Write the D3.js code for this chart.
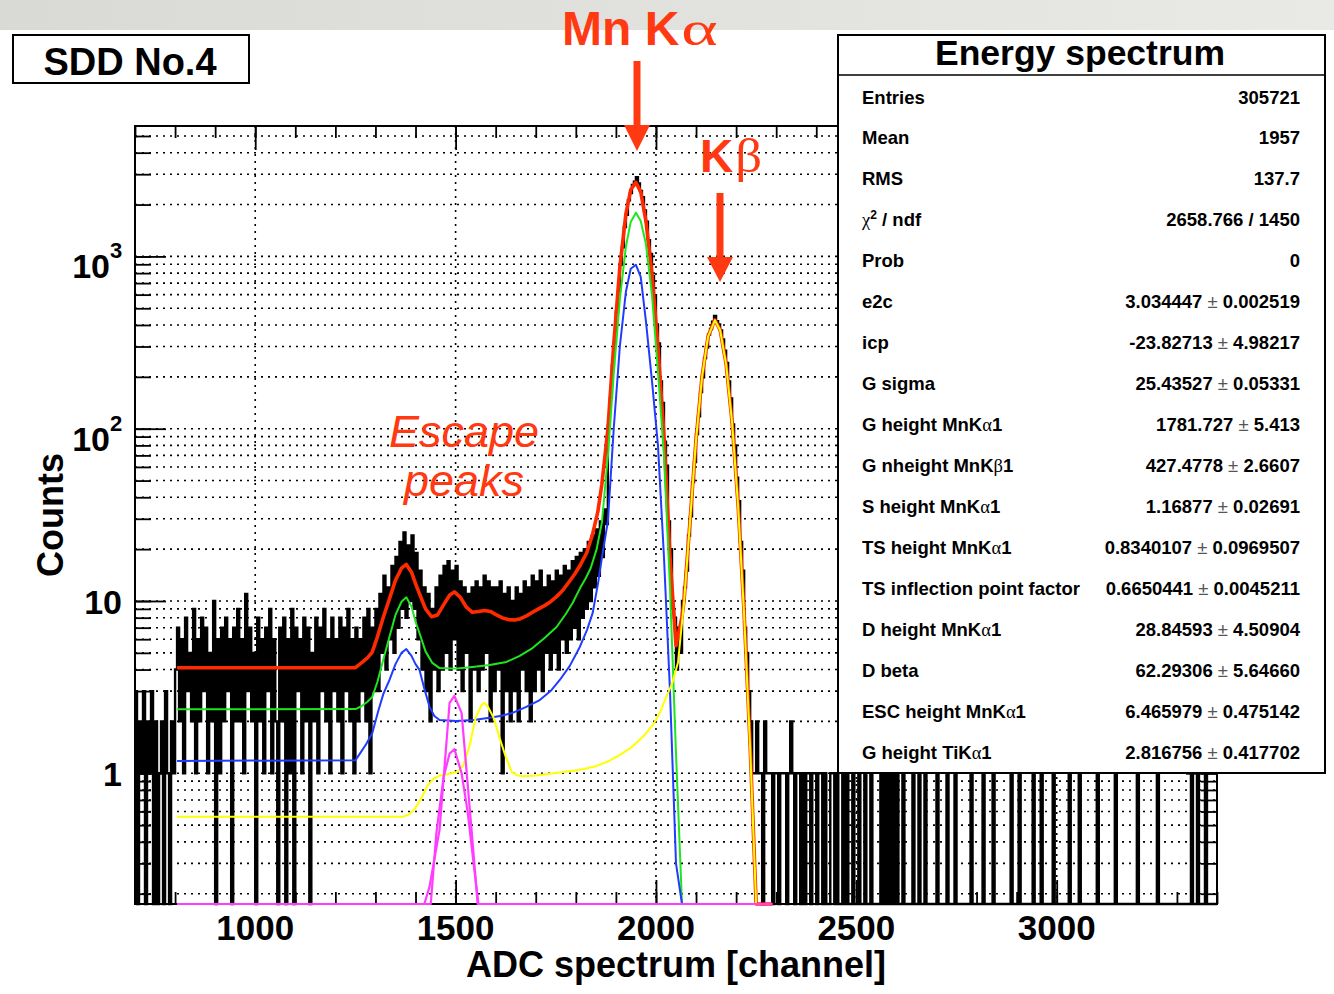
<!DOCTYPE html>
<html>
<head>
<meta charset="utf-8">
<script src="https://cdn.jsdelivr.net/npm/d3@7"></script>
<style>
  html, body { margin: 0; padding: 0; background: #ffffff; }
  svg { display: block; }
  text { font-family: "Liberation Sans", Arial, Helvetica, sans-serif; font-weight: bold; }
</style>
</head>
<body>
<svg id="chart" width="1334" height="994"></svg>
<script>
// ---------------- spectrum data (counts per bin, 5-channel bins from channel 700) ----------------
const binStart = 700;
const binWidth = 5;

// 700 - 800
const countsBelowFit = [3,0,2,1,3,0,2,1,3,0, 2,0,1,2,0,3,1,0,2,1, 4];
// 805 - 1245 : flat continuum
const countsContinuum = [
  7,2,6,1,8,3,5,2,9,1,
  6,2,8,3,7,1,5,2,10,0,
  6,1,7,2,8,3,6,0,7,2,
  9,2,6,1,11,3,7,2,5,0,
  8,2,6,1,7,3,9,1,6,2,
  0,7,2,8,0,6,1,9,0,7,
  3,6,1,8,2,7,0,5,2,8,
  1,7,3,9,2,6,1,8,3,6,
  2,8,1,7,3,9,2,6,1
];
// 1250 - 1875 : escape peaks and low-energy tail
const countsEscape = [
  7,2,6,3,8,2,9,1,7,3,
  9,3,11,5,14,4,12,6,16,5,
  18,7,22,9,25,8,21,10,24,9,
  19,6,15,4,12,3,11,2,9,4,
  12,3,14,4,16,5,17,4,15,6,
  16,4,13,3,12,5,11,2,12,4,
  13,3,12,4,14,5,13,2,12,3,
  12,4,13,1,11,3,12,2,10,3,
  12,2,11,4,13,3,12,2,14,3,
  13,4,15,3,12,5,14,4,13,5,
  15,4,14,6,16,5,15,6,17,7,
  18,6,19,8,20,9,22,10,24,12,
  26,14,29,18,34,28
];
// 1880 - 2245 : Mn K-alpha and K-beta lines
const countsPeaks = [
  104,151,233,309,478,627,893,1131,1482,1744,
  2117,2331,2603,2712,2880,2651,2398,2203,1851,1590,
  1243,1032,771,596,403,312,188,141,84,61,
  29,20,9,8,4,7,5,10,12,15,
  24,31,49,64,93,118,163,199,257,296,
  352,379,418,451,420,403,372,330,284,241,
  188,150,106,80,52,38,22,15,7,5,
  3,2,1,1
];
// 2250 - 3395 : above the K-beta line
const countsTail = [
  2,1,1,0,2,1,1,1,0,1,
  1,0,1,1,1,0,1,2,1,0,
  1,1,0,1,0,1,1,0,1,1,
  0,1,1,0,1,0,0,1,1,0,
  1,0,0,1,0,1,0,0,1,0,
  0,1,0,0,1,0,0,1,0,0,
  0,0,1,0,1,0,1,0,1,0,
  1,0,0,1,0,0,0,0,1,0,
  0,1,0,0,1,0,0,0,0,0,
  1,0,0,0,0,1,0,0,0,1,
  0,0,0,0,0,0,0,1,0,0,
  0,0,0,1,0,0,0,0,1,0,
  0,0,0,0,0,0,0,1,0,0,
  0,1,0,0,0,0,0,0,1,0,
  0,0,1,0,0,0,0,0,1,0,
  0,0,0,0,0,0,1,0,0,0,
  0,1,0,0,0,0,0,0,0,0,
  1,0,0,0,0,0,0,0,0,1,
  0,0,0,0,0,0,0,0,0,0,
  1,0,0,0,0,0,0,0,0,0,
  1,0,0,0,0,0,0,0,0,0,
  0,0,0,0,0,0,0,1,0,0,
  1,0,0,0,1,0,0,0,0,0
];
const counts = [].concat(countsBelowFit, countsContinuum, countsEscape, countsPeaks, countsTail);

// ---------------- fit functions [channel, value] ----------------
const fitTotal = [
  [805,4.1],[1250,4.1],[1265,4.37],[1280,4.68],[1292,5.05],[1305,6.2],[1320,8.1],[1335,10.3],
  [1350,13.2],[1365,15.5],[1377,16.3],[1390,14.7],[1400,12.6],[1410,11.0],[1425,9.0],[1440,8.1],
  [1455,8.3],[1470,9.5],[1485,10.8],[1497,11.3],[1512,10.5],[1527,9.2],[1542,8.6],[1557,8.7],
  [1572,8.8],[1587,8.7],[1602,8.3],[1617,7.97],[1632,7.8],[1647,7.75],[1662,7.9],[1677,8.2],
  [1692,8.6],[1707,9.0],[1722,9.4],[1737,9.9],[1752,10.6],[1767,11.5],[1782,12.8],[1797,14.3],
  [1812,16.3],[1827,19],[1842,24.5],[1855,33],[1865,47.6],[1880,99],[1895,318],[1910,871],
  [1925,1767],[1937,2435],[1950,2690],[1962,2368],[1975,1602],[1990,792],[2005,297],[2020,91],
  [2035,18],[2050,5.5],[2065,8.1],[2070,10],[2085,29.2],[2100,86.5],[2115,201],[2130,343],
  [2147,428],[2160,375],[2175,238],[2190,109],[2205,36],[2220,8.5],[2235,1.45],[2250,0.17],
  [2262,0],[2290,0]
];
const fitKa1 = [
  [805,2.35],[1250,2.36],[1265,2.45],[1280,2.6],[1292,2.77],[1305,3.4],[1320,4.6],[1335,6.2],
  [1350,8.3],[1365,9.9],[1377,10.5],[1390,9.3],[1400,7.6],[1410,6.5],[1425,5.1],[1442,4.37],
  [1460,4.08],[1500,4.05],[1542,4.14],[1585,4.25],[1627,4.43],[1660,4.8],[1692,5.33],[1722,6.1],
  [1752,7.06],[1775,8.4],[1792,9.73],[1810,11.8],[1825,13.6],[1837,15.5],[1852,20],[1865,28.5],
  [1880,69],[1895,214],[1910,568],[1925,1142],[1937,1586],[1950,1795],[1962,1606],[1975,1180],
  [1990,600],[2005,215],[2020,70],[2035,12],[2050,1.3],[2065,0.1],[2080,0],[2290,0]
];
const fitKa2 = [
  [805,1.18],[1250,1.19],[1262,1.31],[1277,1.48],[1292,1.71],[1307,2.3],[1320,2.9],[1335,3.48],
  [1350,4.3],[1365,5.0],[1377,5.26],[1390,4.8],[1400,4.3],[1410,3.98],[1422,3.1],[1435,2.43],
  [1447,2.15],[1460,2.04],[1502,2.01],[1545,2.04],[1585,2.1],[1615,2.16],[1642,2.24],[1675,2.42],
  [1710,2.66],[1737,3.0],[1760,3.48],[1785,4.2],[1810,5.41],[1828,6.8],[1842,8.5],[1855,12.5],
  [1867,19],[1880,29],[1895,103],[1910,302],[1925,624],[1937,848],[1950,894],[1962,760],
  [1975,420],[1990,190],[2005,80],[2020,18],[2035,3],[2050,0.3],[2065,0],[2290,0]
];
const fitKb = [
  [805,0.56],[1370,0.56],[1385,0.58],[1400,0.63],[1415,0.72],[1430,0.85],[1445,0.93],[1460,0.97],
  [1475,0.98],[1490,1.0],[1505,1.02],[1520,1.12],[1535,1.45],[1550,2.1],[1565,2.5],[1572,2.56],
  [1580,2.45],[1595,2.1],[1610,1.6],[1625,1.25],[1640,1.02],[1655,0.97],[1670,0.96],[1700,0.97],
  [1730,0.99],[1760,1.01],[1790,1.03],[1820,1.06],[1850,1.1],[1880,1.17],[1910,1.28],[1940,1.42],
  [1970,1.65],[1995,1.95],[2010,2.25],[2025,2.75],[2040,3.3],[2055,4.4],[2070,9.8],[2085,29],
  [2100,86],[2115,200],[2130,342],[2147,426],[2160,374],[2175,237],[2190,108],[2205,35.5],
  [2220,8.3],[2235,1.4],[2250,0.17],[2262,0],[2290,0]
];
const fitTiA = [
  [805,0],[1415,0],[1422,0.17],[1435,0.22],[1460,0.47],[1485,2.56],[1497,2.81],[1515,2.24],
  [1542,0.41],[1555,0.17],[1565,0],[2290,0]
];
const fitTiB = [
  [805,0],[1430,0],[1438,0.17],[1452,0.45],[1470,0.95],[1485,1.3],[1497,1.38],[1515,1.0],
  [1530,0.6],[1545,0.3],[1557,0.17],[1565,0],[2290,0]
];

// ---------------- axis ticks and labels ----------------
const xMajorTicks = [1000, 1500, 2000, 2500, 3000];
const xMajorLabels = ["1000", "1500", "2000", "2500", "3000"];
const yMajorTicks = [1, 10, 100, 1000];
const yLabelBase = ["1", "10", "10", "10"];
const yLabelExp = ["", "", "2", "3"];

// ---------------- statistics box ----------------
const statLabels = [
  "Entries", "Mean", "RMS", "χ^2 / ndf", "Prob", "e2c", "icp", "G sigma",
  "G height MnKα1", "G nheight MnKβ1", "S height MnKα1", "TS height MnKα1",
  "TS inflection point factor", "D height MnKα1", "D beta", "ESC height MnKα1", "G height TiKα1"
];
const statValues = [
  "305721", "1957", "137.7", "2658.766 / 1450", "0",
  "3.034447 ± 0.002519", "-23.82713 ± 4.98217", "25.43527 ± 0.05331",
  "1781.727 ± 5.413", "427.4778 ± 2.6607", "1.16877 ± 0.02691", "0.8340107 ± 0.0969507",
  "0.6650441 ± 0.0045211", "28.84593 ± 4.50904", "62.29306 ± 5.64660",
  "6.465979 ± 0.475142", "2.816756 ± 0.417702"
];

// ---------------- drawing ----------------
const svg = d3.select("#chart");
const frame = { left: 135, right: 1217, top: 126, bottom: 904 };
const annotRed = "#ff3a12";
const greekFont = '"Liberation Serif", "DejaVu Serif", serif';

const x = d3.scaleLinear().domain([700, 3400]).range([frame.left, frame.right]);
const y = d3.scaleLog().domain([0.1743, 5714]).range([frame.bottom, frame.top]).clamp(true);
const yv = v => y(Math.max(v, 1e-4));

// slide background strip
const defs = svg.append("defs");
const grad = defs.append("linearGradient").attr("id", "band").attr("x1", 0).attr("x2", 1).attr("y1", 0).attr("y2", 0);
grad.append("stop").attr("offset", "0%").attr("stop-color", "#d9dad5");
grad.append("stop").attr("offset", "100%").attr("stop-color", "#e9e9e5");
svg.append("rect").attr("x", 0).attr("y", 0).attr("width", 1334).attr("height", 30).attr("fill", "url(#band)");

defs.append("clipPath").attr("id", "plotClip").append("rect")
  .attr("x", frame.left).attr("y", frame.top - 2)
  .attr("width", frame.right - frame.left + 1).attr("height", frame.bottom - frame.top + 4);

// grid
const gGrid = svg.append("g").attr("stroke", "#000").attr("stroke-width", 1.6).attr("stroke-dasharray", "2,5");
const yAllTicks = y.ticks().filter(v => v >= 0.1743 && v <= 5714);
gGrid.selectAll("line.h").data(yAllTicks).join("line")
  .attr("x1", frame.left).attr("x2", frame.right)
  .attr("y1", d => y(d)).attr("y2", d => y(d));
gGrid.selectAll("line.v").data(xMajorTicks).join("line")
  .attr("x1", d => x(d)).attr("x2", d => x(d))
  .attr("y1", frame.top).attr("y2", frame.bottom);

// axis ticks (inward, on all four sides)
const xMinor = d3.range(700, 3401, 100);
const yMinor = yAllTicks;
function tickAxis(axis, tx, ty) {
  const g = svg.append("g").attr("transform", `translate(${tx},${ty})`).call(axis);
  g.select(".domain").remove();
  g.selectAll(".tick line").attr("stroke", "#000").attr("stroke-width", 1.8);
  g.selectAll(".tick text").remove();
}
tickAxis(d3.axisBottom(x).tickValues(xMinor).tickSize(-12).tickFormat(""), 0, frame.bottom);
tickAxis(d3.axisBottom(x).tickValues(xMajorTicks).tickSize(-24).tickFormat(""), 0, frame.bottom);
tickAxis(d3.axisTop(x).tickValues(xMinor).tickSize(-12).tickFormat(""), 0, frame.top);
tickAxis(d3.axisTop(x).tickValues(xMajorTicks).tickSize(-24).tickFormat(""), 0, frame.top);
tickAxis(d3.axisLeft(y).tickValues(yMinor).tickSize(-16).tickFormat(""), frame.left, 0);
tickAxis(d3.axisLeft(y).tickValues(yMajorTicks).tickSize(-31).tickFormat(""), frame.left, 0);
tickAxis(d3.axisRight(y).tickValues(yMinor).tickSize(-16).tickFormat(""), frame.right, 0);
tickAxis(d3.axisRight(y).tickValues(yMajorTicks).tickSize(-31).tickFormat(""), frame.right, 0);

// frame
svg.append("rect").attr("x", frame.left).attr("y", frame.top)
  .attr("width", frame.right - frame.left).attr("height", frame.bottom - frame.top)
  .attr("fill", "none").attr("stroke", "#000").attr("stroke-width", 2);

// histogram as a step line
const histPts = counts.map((c, i) => [binStart + i * binWidth, c]);
histPts.push([binStart + counts.length * binWidth, counts[counts.length - 1]]);
const stepLine = d3.line().x(d => x(d[0])).y(d => yv(d[1])).curve(d3.curveStepAfter);
const gPlot = svg.append("g").attr("clip-path", "url(#plotClip)");
gPlot.append("path").attr("d", stepLine(histPts))
  .attr("fill", "none").attr("stroke", "#000").attr("stroke-width", 2.4);

// fit curves
const fitLine = d3.line().x(d => x(d[0])).y(d => yv(d[1]));
const curves = [
  { data: fitTotal, color: "#ff2a00", width: 3.6 },
  { data: fitKa1, color: "#1ee61e", width: 2 },
  { data: fitKa2, color: "#1f3cff", width: 2 },
  { data: fitKb, color: "#ffff00", width: 2 },
  { data: fitTiB, color: "#ff3cff", width: 2.2 },
  { data: fitTiA, color: "#ff3cff", width: 2.2 }
];
curves.forEach(c => {
  gPlot.append("path").attr("d", fitLine(c.data))
    .attr("fill", "none").attr("stroke", c.color).attr("stroke-width", c.width)
    .attr("stroke-linejoin", "round");
});

// x tick labels
svg.append("g").selectAll("text").data(xMajorTicks).join("text")
  .attr("x", d => x(d)).attr("y", 940).attr("text-anchor", "middle")
  .attr("font-size", 35).text((d, i) => xMajorLabels[i]);

// y tick labels with exponents
yMajorTicks.forEach((v, i) => {
  const ty = y(v);
  if (yLabelExp[i]) {
    svg.append("text").attr("x", 110).attr("y", ty + 22).attr("text-anchor", "end")
      .attr("font-size", 34).text(yLabelBase[i]);
    svg.append("text").attr("x", 110).attr("y", ty + 2).attr("text-anchor", "start")
      .attr("font-size", 22).text(yLabelExp[i]);
  } else {
    svg.append("text").attr("x", 122).attr("y", ty + 13).attr("text-anchor", "end")
      .attr("font-size", 34).text(yLabelBase[i]);
  }
});

// axis titles
svg.append("text").attr("x", (frame.left + frame.right) / 2).attr("y", 977)
  .attr("text-anchor", "middle").attr("font-size", 36).text("ADC spectrum [channel]");
svg.append("text").attr("transform", `translate(63,${(frame.top + frame.bottom) / 2}) rotate(-90)`)
  .attr("text-anchor", "middle").attr("font-size", 36).text("Counts");

// detector label box
svg.append("rect").attr("x", 13).attr("y", 35).attr("width", 236).attr("height", 48)
  .attr("fill", "#fff").attr("stroke", "#000").attr("stroke-width", 2);
svg.append("text").attr("x", 130).attr("y", 75).attr("text-anchor", "middle")
  .attr("font-size", 38).text("SDD No.4");

// rich text helper: Greek letters in serif, ± lighter, "^2" as superscript
function addRich(sel, str) {
  const runs = [];
  const chars = Array.from(str);
  for (let k = 0; k < chars.length; k++) {
    const ch = chars[k];
    let kind = "n", s = ch;
    if ("αβχ".includes(ch)) kind = "g";
    else if (ch === "±") kind = "pm";
    else if (ch === "^") { kind = "sup"; s = chars[++k]; }
    if (kind !== "sup" && runs.length && runs[runs.length - 1].kind === kind) runs[runs.length - 1].s += s;
    else runs.push({ kind, s });
  }
  let shifted = 0;
  runs.forEach(r => {
    const t = sel.append("tspan").text(r.s);
    if (shifted) { t.attr("dy", shifted); shifted = 0; }
    if (r.kind === "g") {
      t.style("font-family", greekFont).style("font-weight", "normal");
    } else if (r.kind === "pm") {
      t.style("font-weight", "normal").attr("fill", "#555");
    } else if (r.kind === "sup") {
      t.attr("dy", -7).style("font-size", "12px");
      shifted = 7;
    }
  });
}

// statistics box
const box = { left: 838, right: 1325, top: 35, bottom: 773, header: 75 };
svg.append("rect").attr("x", box.left).attr("y", box.top)
  .attr("width", box.right - box.left).attr("height", box.bottom - box.top)
  .attr("fill", "#fff").attr("stroke", "#000").attr("stroke-width", 2);
svg.append("line").attr("x1", box.left).attr("x2", box.right).attr("y1", box.header).attr("y2", box.header)
  .attr("stroke", "#000").attr("stroke-width", 1.5);
svg.append("text").attr("x", 1080).attr("y", 65).attr("text-anchor", "middle")
  .attr("font-size", 35.5).text("Energy spectrum");
const rowY = d3.scaleLinear().domain([0, statLabels.length - 1]).range([97, 752]);
statLabels.forEach((lab, i) => {
  const tl = svg.append("text").attr("x", 862).attr("y", rowY(i) + 6.5).attr("font-size", 18.5);
  addRich(tl, lab);
  const tv = svg.append("text").attr("x", 1300).attr("y", rowY(i) + 6.5).attr("text-anchor", "end").attr("font-size", 18.5);
  addRich(tv, statValues[i]);
});

// line annotations: bold "Mn K" / "K" followed by a wide serif Greek letter
function lineLabel(xs, yb, latin, greek, size, greekSize, greekStretch) {
  const t = svg.append("text").attr("x", xs).attr("y", yb).attr("font-size", size)
    .attr("fill", annotRed).text(latin);
  const w = t.node().getComputedTextLength();
  svg.append("text").attr("transform", `translate(${xs + w + 2},${yb}) scale(${greekStretch},1)`)
    .attr("font-size", greekSize).style("font-family", greekFont).style("font-weight", "normal")
    .attr("fill", annotRed).text(greek);
}
lineLabel(562, 45, "Mn K", "α", 48, 48, 1.45);
lineLabel(700, 172, "K", "β", 46, 48, 1.1);

function arrow(xc, y0, y1, headLen, headW) {
  svg.append("line").attr("x1", xc).attr("x2", xc).attr("y1", y0).attr("y2", y1 - headLen + 2)
    .attr("stroke", annotRed).attr("stroke-width", 7);
  svg.append("path").attr("d", `M${xc - headW / 2},${y1 - headLen} L${xc + headW / 2},${y1 - headLen} L${xc},${y1} Z`)
    .attr("fill", annotRed);
}
arrow(637, 61, 151, 26, 26);
arrow(720, 193, 282, 25, 26);

svg.append("text").attr("x", 464).attr("y", 447).attr("text-anchor", "middle")
  .attr("font-size", 45).attr("font-style", "italic")
  .style("font-weight", "normal").attr("fill", annotRed).text("Escape");
svg.append("text").attr("x", 464).attr("y", 496).attr("text-anchor", "middle")
  .attr("font-size", 45).attr("font-style", "italic")
  .style("font-weight", "normal").attr("fill", annotRed).text("peaks");
</script>
</body>
</html>
